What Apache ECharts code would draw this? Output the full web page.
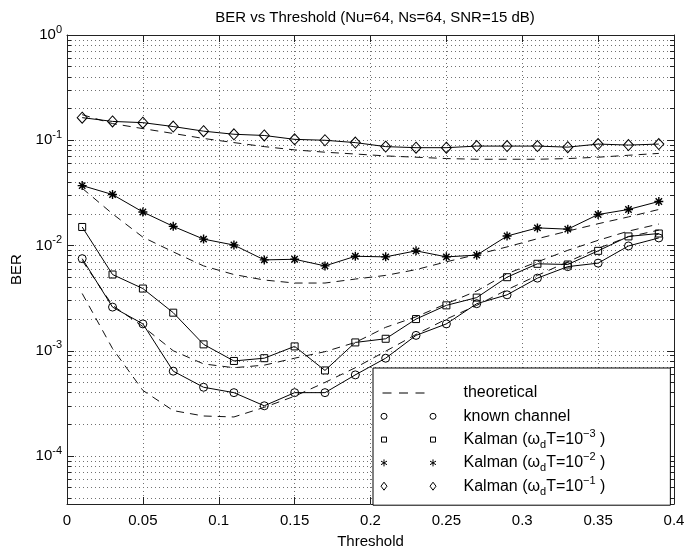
<!DOCTYPE html>
<html><head><meta charset="utf-8">
<script src="https://cdn.jsdelivr.net/npm/echarts@6/dist/echarts.min.js"></script>
<style>html,body{margin:0;padding:0;background:#fff}#c{width:696px;height:554px}</style>
</head><body><div id="c"></div>
<script>
const thresholds = [0.01,0.03,0.05,0.07,0.09,0.11,0.13,0.15,0.17,0.19,0.21,0.23,0.25,0.27,0.29,0.31,0.33,0.35,0.37,0.39];
const berKnown   = [0.0075,0.0026,0.0018,0.00064,0.00045,0.0004,0.0003,0.0004,0.0004,0.00059,0.00085,0.0014,0.0018,0.0028,0.0034,0.0049,0.0063,0.0068,0.0099,0.0118];
const berKalman3 = [0.015,0.0053,0.0039,0.0023,0.00115,0.0008,0.00085,0.0011,0.00065,0.0012,0.0013,0.002,0.0027,0.0032,0.005,0.0067,0.0066,0.0089,0.0122,0.013];
const berKalman2 = [0.0371,0.0305,0.0208,0.0152,0.0115,0.0101,0.0073,0.0074,0.0064,0.0079,0.0078,0.0089,0.0078,0.0081,0.0123,0.0147,0.0143,0.0197,0.022,0.0262];
const berKalman1 = [0.164,0.151,0.147,0.135,0.122,0.114,0.111,0.102,0.1,0.095,0.087,0.085,0.085,0.088,0.088,0.088,0.086,0.092,0.09,0.092];
const theoryKnown   = [0.0035,0.00105,0.00042,0.00027,0.00024,0.000235,0.00029,0.00037,0.0005,0.00069,0.00099,0.00143,0.002,0.0027,0.0038,0.0052,0.007,0.0094,0.0121,0.014];
const theoryKalman3 = [0.0072,0.0027,0.0017,0.001,0.00075,0.00069,0.00073,0.00085,0.00098,0.0012,0.00167,0.0021,0.0028,0.0037,0.0054,0.007,0.009,0.0112,0.0137,0.016];
const theoryKalman2 = [0.035,0.02,0.012,0.0087,0.0064,0.0053,0.0047,0.0044,0.0044,0.0048,0.0052,0.0059,0.007,0.0082,0.0097,0.0116,0.0137,0.0161,0.0187,0.022];
const theoryKalman1 = [0.175,0.144,0.129,0.116,0.104,0.095,0.087,0.081,0.077,0.074,0.071,0.069,0.067,0.066,0.066,0.066,0.067,0.069,0.072,0.075];
const yDecades = [1e-4,1e-3,1e-2,1e-1,1];
const yMin = 3.5e-5, yMax = 1;
const minorMantissas = [1,2,3,4,5,6,7,8,9];
const yMinorValues = [];
[-5,-4,-3,-2,-1].forEach(e => minorMantissas.forEach(m => { const v = +(m * Math.pow(10, e)).toPrecision(3); if (v >= yMin && v <= yMax) yMinorValues.push(v); }));
yMinorValues.push(1);

const FONT = "'Liberation Sans', Arial, Helvetica, sans-serif";
const pair = (a) => thresholds.map((x, i) => [x, a[i]]);
const axisColor = '#222';
const gridLine = {show: true, lineStyle: {type: [1, 3], color: '#707070', width: 1}};

function decadeLabel(v) {
  const l = Math.log10(v);
  const e = Math.round(l);
  if (Math.abs(l - e) > 1e-6) return '';
  return '{b|10}{s|' + (e === 0 ? '0' : '-' + (-e)) + '}';
}
const yBase = {type: 'log', logBase: 10, min: yMin, max: yMax};

const starPath = 'path://M5,0V10M0,5H10M1.46,1.46L8.54,8.54M1.46,8.54L8.54,1.46';
const markerStyle = {color: 'rgba(0,0,0,0)', borderColor: '#000', borderWidth: 1};

const names = {
  th: 'theoretical', kn: 'known channel',
  k3: 'Kalman (wdT=1e-3)', k2: 'Kalman (wdT=1e-2)', k1: 'Kalman (wdT=1e-1)'
};
const legendText = {};
legendText[names.th] = '{g| }theoretical';
legendText[names.kn] = '{g| }known channel';
legendText[names.k3] = '{g| }Kalman (ω{sub|d}T=10{sup|−3} )';
legendText[names.k2] = '{g| }Kalman (ω{sub|d}T=10{sup|−2} )';
legendText[names.k1] = '{g| }Kalman (ω{sub|d}T=10{sup|−1} )';

function theory(data) {
  return {name: names.th, type: 'line', data: pair(data), symbol: 'none', z: 2,
    lineStyle: {type: [8, 6], color: '#111', width: 1}, itemStyle: {color: '#111'}};
}
function measured(name, data, symbol, size, extra) {
  return {name, type: 'line', data: pair(data), symbol, symbolSize: size, showAllSymbol: true, z: 3,
    lineStyle: {color: '#000', width: 1}, itemStyle: Object.assign({}, markerStyle, extra || {})};
}

const anchor = ' M0,0 M56,10';
const option = {
  animation: false,
  backgroundColor: '#fff',
  title: {text: 'BER vs Threshold (Nu=64, Ns=64, SNR=15 dB)', left: 370, textAlign: 'center', top: 5,
    textStyle: {fontFamily: FONT, fontSize: 15, fontWeight: 'normal', color: '#000'}},
  grid: {left: 67, right: 22, top: 35, bottom: 46},
  xAxis: [
    {type: 'value', min: 0, max: 0.4, interval: 0.05, position: 'bottom',
     axisLine: {show: true, lineStyle: {color: axisColor}},
     axisTick: {show: true, inside: true, length: 7, lineStyle: {color: axisColor}},
     splitLine: gridLine,
     axisLabel: {fontFamily: FONT, fontSize: 15, color: '#000', margin: 9},
     name: 'Threshold', nameLocation: 'middle', nameGap: 30,
     nameTextStyle: {fontFamily: FONT, fontSize: 15, color: '#000'}},
    {type: 'value', min: 0, max: 0.4, interval: 0.05, position: 'top',
     axisLine: {show: true, lineStyle: {color: axisColor}},
     axisTick: {show: true, inside: true, length: 7, lineStyle: {color: axisColor}},
     splitLine: {show: false}, axisLabel: {show: false}}
  ],
  yAxis: [
    Object.assign({}, yBase, {position: 'left',
      axisLine: {show: true, lineStyle: {color: axisColor}},
      axisTick: {show: true, inside: true, length: 4, customValues: yMinorValues, lineStyle: {color: axisColor}},
      splitLine: gridLine,
      axisLabel: {customValues: yDecades, formatter: decadeLabel, margin: 5, color: '#000',
        rich: {b: {fontFamily: FONT, fontSize: 15, color: '#000', lineHeight: 22},
               s: {fontFamily: FONT, fontSize: 11, color: '#000', verticalAlign: 'top', lineHeight: 11}}},
      name: 'BER', nameLocation: 'middle', nameGap: 35, nameRotate: 90,
      nameTextStyle: {fontFamily: FONT, fontSize: 15, color: '#000'}}),
    Object.assign({}, yBase, {position: 'left', axisLine: {show: false},
      axisTick: {show: true, inside: true, length: 7, customValues: yDecades, lineStyle: {color: axisColor}},
      splitLine: {show: false}, axisLabel: {show: false}}),
    Object.assign({}, yBase, {position: 'right', axisLine: {show: true, lineStyle: {color: axisColor}},
      axisTick: {show: true, inside: true, length: 4, customValues: yMinorValues, lineStyle: {color: axisColor}},
      splitLine: {show: false}, axisLabel: {show: false}}),
    Object.assign({}, yBase, {position: 'right', axisLine: {show: false},
      axisTick: {show: true, inside: true, length: 7, customValues: yDecades, lineStyle: {color: axisColor}},
      splitLine: {show: false}, axisLabel: {show: false}})
  ],
  legend: {
    orient: 'vertical', left: 373, top: 368,
    padding: [14, 65, 8, 7], itemGap: 1.3, itemWidth: 56, itemHeight: 10,
    backgroundColor: '#fff', borderColor: '#000', borderWidth: 1, borderRadius: 0,
    formatter: n => legendText[n],
    textStyle: {fontFamily: FONT, fontSize: 16, color: '#000', lineHeight: 22,
      rich: {g: {width: 22},
             sub: {fontFamily: FONT, fontSize: 11, color: '#000', verticalAlign: 'bottom', lineHeight: 11},
             sup: {fontFamily: FONT, fontSize: 11, color: '#000', verticalAlign: 'top', lineHeight: 11}}},
    data: [
      {name: names.th, icon: 'path://M2,4.5h9v1h-9z M18.5,4.5h9v1h-9z M35,4.5h9v1h-9z' + anchor,
       itemStyle: {color: '#000', borderWidth: 0}},
      {name: names.kn, icon: 'path://M0.5,5a3,3 0 1,0 6,0a3,3 0 1,0 -6,0 M49.5,5a3,3 0 1,0 6,0a3,3 0 1,0 -6,0' + anchor,
       itemStyle: markerStyle},
      {name: names.k3, icon: 'path://M1,2.5h5v5h-5z M50,2.5h5v5h-5z' + anchor, itemStyle: markerStyle},
      {name: names.k2, icon: 'path://M3.5,1.5V8.5 M0.5,3.2L6.5,6.8 M0.5,6.8L6.5,3.2 M52.5,1.5V8.5 M49.5,3.2L55.5,6.8 M49.5,6.8L55.5,3.2' + anchor,
       itemStyle: markerStyle},
      {name: names.k1, icon: 'path://M3.5,1L6.5,5L3.5,9L0.5,5Z M52.5,1L55.5,5L52.5,9L49.5,5Z' + anchor, itemStyle: markerStyle}
    ]
  },
  series: [
    theory(theoryKnown), theory(theoryKalman3), theory(theoryKalman2), theory(theoryKalman1),
    measured(names.kn, berKnown, 'circle', 8),
    measured(names.k3, berKalman3, 'rect', 7),
    measured(names.k2, berKalman2, starPath, 9, {borderWidth: 1.4}),
    measured(names.k1, berKalman1, 'diamond', [10, 11])
  ]
};
const chart = echarts.init(document.getElementById('c'), null, {renderer: 'canvas'});
chart.setOption(option);
</script></body></html>
